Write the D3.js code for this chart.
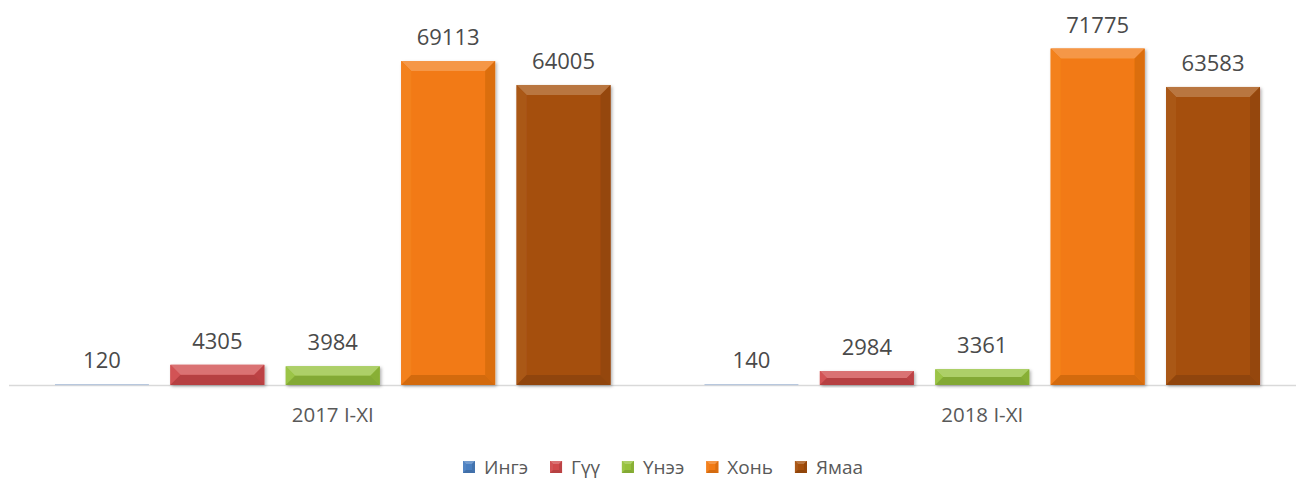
<!DOCTYPE html>
<html>
<head>
<meta charset="utf-8">
<script src="https://cdn.jsdelivr.net/npm/d3@7"></script>
<style>
  body { margin: 0; background: #fff; }
  text { font-family: "Open Sans", "Liberation Sans", sans-serif; }
</style>
</head>
<body>
<div id="chart"></div>
<script>
  // data
  var categories = ["2017 I-XI", "2018 I-XI"];
  var series = ["Ингэ", "Гүү", "Үнээ", "Хонь", "Ямаа"];
  var values2017 = [120, 4305, 3984, 69113, 64005];
  var values2018 = [140, 2984, 3361, 71775, 63583];
  var seriesColors = ["#4a7fc0", "#d04a4c", "#96c13c", "#f27a12", "#a54f0c"];

  var valuesByCat = [values2017, values2018];

  var width = 1296;
  var height = 480;

  var svg = d3.select("#chart")
      .append("svg")
      .attr("width", width)
      .attr("height", height);

  var defs = svg.append("defs");
  var shadow = defs.append("filter")
      .attr("id", "shadow")
      .attr("x", "-10%").attr("y", "-10%")
      .attr("width", "130%").attr("height", "130%");
  shadow.append("feDropShadow")
      .attr("dx", 1.5).attr("dy", 1.5)
      .attr("stdDeviation", 1.5)
      .attr("flood-color", "#000")
      .attr("flood-opacity", 0.3);

  var x0 = d3.scaleBand()
      .domain(categories)
      .range([8, 1307])
      .paddingInner(0)
      .paddingOuter(0);

  var x1 = d3.scaleBand()
      .domain(series)
      .range([0, x0.bandwidth()])
      .paddingInner(0.186)
      .paddingOuter(0.407);

  var y = d3.scaleLinear()
      .domain([0, 80000])
      .range([385, 10]);

  var color = d3.scaleOrdinal()
      .domain(series)
      .range(seriesColors);

  // axis line
  svg.append("line")
      .attr("x1", 9).attr("x2", width)
      .attr("y1", y(0) + 0.5).attr("y2", y(0) + 0.5)
      .attr("stroke", "#d9d9d9")
      .attr("stroke-width", 1.5);

  // category labels
  svg.append("g")
      .selectAll("text")
      .data(categories)
      .join("text")
      .attr("x", d => x0(d) + x0.bandwidth() / 2)
      .attr("y", 422)
      .attr("text-anchor", "middle")
      .attr("font-size", 20.5)
      .attr("fill", "#595959")
      .text(d => d);

  // bevel pieces for one bar
  function bevelParts(bx, by, bw, bh, base, size) {
    var b = Math.min(size, bh / 2, bw / 2);
    var c = d3.color(base);
    return [
      { pts: [[bx, by], [bx + bw, by], [bx + bw - b, by + b], [bx + b, by + b]], fill: d3.interpolateRgb(base, "#fff")(0.22) },
      { pts: [[bx, by], [bx + b, by + b], [bx + b, by + bh - b], [bx, by + bh]], fill: d3.interpolateRgb(base, "#fff")(0.05) },
      { pts: [[bx + bw, by], [bx + bw - b, by + b], [bx + bw - b, by + bh - b], [bx + bw, by + bh]], fill: c.darker(0.28).toString() },
      { pts: [[bx, by + bh], [bx + bw, by + bh], [bx + bw - b, by + bh - b], [bx + b, by + bh - b]], fill: c.darker(0.38).toString() }
    ];
  }

  var rows = [];
  categories.forEach(function (cat, i) {
    series.forEach(function (s, j) {
      rows.push({ cat: cat, key: s, value: valuesByCat[i][j] });
    });
  });

  var bars = svg.append("g")
      .selectAll("g")
      .data(rows)
      .join("g")
      .attr("filter", d => d.value > 1000 ? "url(#shadow)" : null);

  bars.each(function (d) {
    var g = d3.select(this);
    var bx = x0(d.cat) + x1(d.key);
    var bw = x1.bandwidth();
    var by = y(d.value);
    var bh = y(0) - by;
    var base = color(d.key);
    if (d.value < 1000) {
      g.append("rect")
          .attr("x", bx).attr("y", y(0) - 1)
          .attr("width", bw).attr("height", 1.2)
          .attr("fill", "#b8c8de");
      return;
    }
    g.append("rect")
        .attr("x", bx).attr("y", by)
        .attr("width", bw).attr("height", bh)
        .attr("fill", base);
    g.selectAll("polygon")
        .data(bevelParts(bx, by, bw, bh, base, 10))
        .join("polygon")
        .attr("points", p => p.pts.map(q => q.join(",")).join(" "))
        .attr("fill", p => p.fill);
  });

  // value labels
  svg.append("g")
      .selectAll("text")
      .data(rows)
      .join("text")
      .attr("x", d => x0(d.cat) + x1(d.key) + x1.bandwidth() / 2)
      .attr("y", d => y(d.value) - 16)
      .attr("text-anchor", "middle")
      .attr("font-size", 22)
      .attr("fill", "#4a4a4a")
      .text(d => d.value);

  // legend
  var legend = svg.append("g");
  var lx = 463;
  series.forEach(function (s) {
    var item = legend.append("g").attr("transform", "translate(" + lx + ",0)");
    var base = color(s);
    item.append("rect")
        .attr("x", 0).attr("y", 461)
        .attr("width", 12).attr("height", 12)
        .attr("fill", base);
    item.selectAll("polygon")
        .data(bevelParts(0, 461, 12, 12, base, 3))
        .join("polygon")
        .attr("points", p => p.pts.map(q => q.join(",")).join(" "))
        .attr("fill", p => p.fill);
    var t = item.append("text")
        .attr("x", 21).attr("y", 474)
        .attr("font-size", 19)
        .attr("fill", "#595959")
        .text(s);
    lx += 21 + t.node().getComputedTextLength() + 22;
  });
</script>
</body>
</html>
